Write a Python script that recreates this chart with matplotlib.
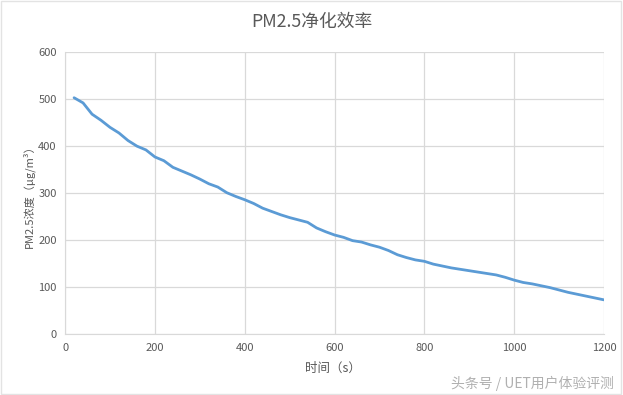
import matplotlib
matplotlib.use("Agg")
import matplotlib.pyplot as plt
from matplotlib.patches import Rectangle

plt.rcParams['font.family'] = ['Noto Sans CJK SC', 'DejaVu Sans']

time_s = list(range(20, 1201, 20))
pm25 = [503, 492, 468, 455, 440, 428, 412, 400, 392, 377,
        369, 355, 347, 339, 330, 320, 313, 301, 293, 286,
        278, 268, 261, 254, 248, 243, 238, 226, 218, 211,
        206, 199, 196, 190, 185, 178, 169, 163, 158, 155,
        149, 145, 141, 138, 135, 132, 129, 126, 121, 115,
        110, 107, 103, 99, 94, 89, 85, 81, 77, 73]
x_ticks = [0, 200, 400, 600, 800, 1000, 1200]
y_ticks = [0, 100, 200, 300, 400, 500, 600]

title = "PM2.5净化效率"
x_label = "时间（s）"
y_label = "PM2.5浓度（μg/m³）"
watermark = "头条号 / UET用户体验评测"

fig = plt.figure(figsize=(6.23, 3.95), dpi=100)
ax = fig.add_axes([0.1045, 0.154, 0.865, 0.714])

ax.plot(time_s, pm25, color='#5B9BD5', linewidth=2.0, solid_capstyle='round')
ax.set_xlim(0, 1200)
ax.set_ylim(0, 600)
ax.set_xticks(x_ticks)
ax.set_yticks(y_ticks)
ax.grid(True, color='#D9D9D9', linewidth=0.9)
ax.set_axisbelow(True)
for s in ax.spines.values():
    s.set_visible(False)
ax.spines['bottom'].set_visible(True)
ax.spines['bottom'].set_color('#D9D9D9')
ax.spines['left'].set_visible(True)
ax.spines['left'].set_color('#D9D9D9')
ax.tick_params(length=0, labelsize=8, labelcolor='#595959', pad=6)

fig.text(0.5, 0.945, title, ha='center', va='center', fontsize=12.8, color='#595959')
fig.text(0.535, 0.068, x_label, ha='center', va='center', fontsize=9, color='#595959')
fig.text(0.046, 0.51, y_label, ha='center', va='center', fontsize=8, color='#595959', rotation=90)
fig.text(0.985, 0.03, watermark, ha='right', va='center', fontsize=10, color='#B0B0B0')

fig.patches.append(Rectangle((0.002, 0.002), 0.995, 0.996, transform=fig.transFigure,
                             fill=False, edgecolor='#E3E3E3', linewidth=1.0))

fig.savefig("out.png", dpi=100)
